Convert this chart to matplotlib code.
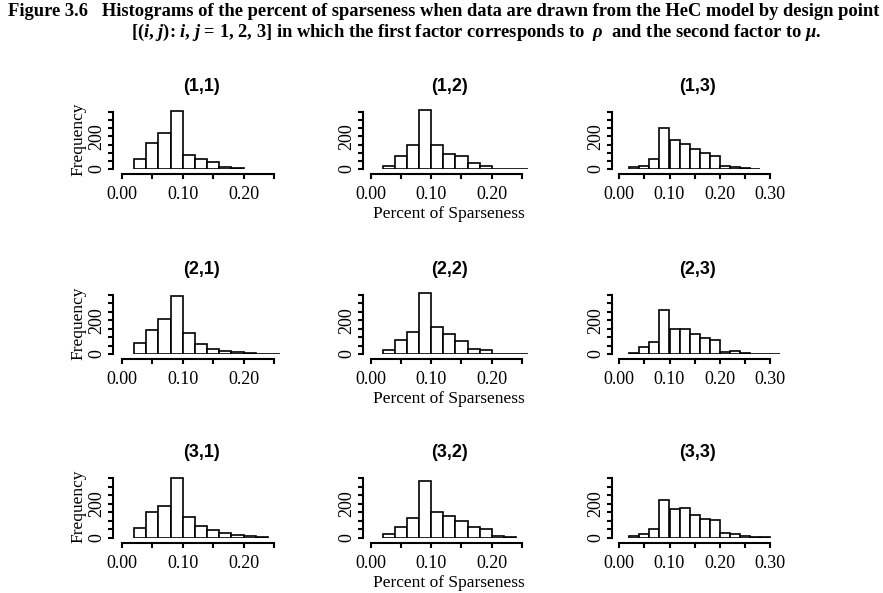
import numpy as np
import matplotlib
matplotlib.use("Agg")
import matplotlib.pyplot as plt

plt.rcParams['mathtext.fontset'] = 'custom'
plt.rcParams['mathtext.rm'] = 'Liberation Serif:bold'
plt.rcParams['mathtext.it'] = 'Liberation Serif:italic:bold'
plt.rcParams['mathtext.bf'] = 'Liberation Serif:bold'

# histogram counts, bins of width 0.02 starting at 0.02
h11 = [63, 162, 219, 356, 83, 61, 40, 12, 8]
h12 = [16, 78, 145, 364, 147, 95, 78, 34, 18, 2, 1, 1]
h13 = [12, 20, 63, 254, 179, 154, 122, 96, 79, 20, 10, 4, 3]
h21 = [65, 140, 207, 344, 126, 59, 32, 20, 14, 6, 2, 2]
h22 = [22, 83, 132, 360, 158, 117, 75, 32, 26, 2, 1, 1]
h23 = [8, 40, 71, 259, 150, 150, 121, 93, 83, 12, 16, 6, 2, 2, 1]
h31 = [58, 150, 185, 350, 121, 68, 47, 29, 16, 10, 6]
h32 = [21, 62, 118, 332, 150, 130, 101, 62, 54, 10, 6]
h33 = [12, 25, 50, 222, 167, 175, 132, 109, 105, 31, 21, 10, 6, 6]

counts = [[h11, h12, h13], [h21, h22, h23], [h31, h32, h33]]
titles = [["(1,1)", "(1,2)", "(1,3)"],
          ["(2,1)", "(2,2)", "(2,3)"],
          ["(3,1)", "(3,2)", "(3,3)"]]
xmax = [0.25, 0.25, 0.30]
x_labels = ["0.00", "0.10", "0.20", "0.30"]
y_ticks = [0, 50, 100, 150, 200, 250, 300, 350]

W, H = 883, 593
fig = plt.figure(figsize=(W / 100, H / 100), dpi=100)

# pixel layout: (x of 0, pixels per unit, x of y axis)
cols = [(122, 608, 113), (370.7, 605, 363), (619.3, 502, 612)]
# (pixel y of 0, pixel y of 350)
rows = [(169, 112), (354, 295), (538, 478)]
ylim_top = 370

serif = 'Liberation Serif'
for r in range(3):
    y0, y350 = rows[r]
    ppu_y = (y0 - y350) / 350
    for c in range(3):
        x0, ppu, yax = cols[c]
        xl = -0.02
        xr = xmax[c] + 0.03
        left = x0 + xl * ppu
        width = (xr - xl) * ppu
        height = ylim_top * ppu_y
        ax = fig.add_axes([left / W, 1 - y0 / H, width / W, height / H])
        ax.set_xlim(xl, xr)
        ax.set_ylim(0, ylim_top)
        ax.patch.set_visible(False)

        vals = counts[r][c]
        edges = 0.02 + 0.02 * np.arange(len(vals) + 1)
        ax.hist(edges[:-1], bins=edges, weights=vals, facecolor='white',
                edgecolor='black', linewidth=1.2)

        for s in ['top', 'right']:
            ax.spines[s].set_visible(False)
        ax.spines['left'].set_position(('data', (yax - x0) / ppu))
        ax.spines['left'].set_bounds(0, 350)
        ax.spines['bottom'].set_position(('outward', 3.6))
        ax.spines['bottom'].set_bounds(0, xmax[c])
        for s in ['left', 'bottom']:
            ax.spines[s].set_linewidth(1.5)

        xt = np.arange(0, xmax[c] + 0.001, 0.05)
        ax.set_xticks(xt)
        ax.set_xticklabels([x_labels[i // 2] if i % 2 == 0 else ""
                            for i in range(len(xt))],
                           fontfamily=serif, fontsize=13)
        ax.set_yticks(y_ticks)
        ax.set_yticklabels(["0", "", "", "", "200", "", "", ""],
                           fontfamily=serif, fontsize=13, rotation=90,
                           va='center')
        ax.tick_params(direction='out', length=3.6, width=1.5, pad=2)
        ax.tick_params(axis='x', pad=5)

        ax.set_title(titles[r][c], fontfamily='Liberation Sans',
                     fontweight='bold', fontsize=13, pad=13)
        if c == 0:
            ax.set_ylabel("Frequency", fontfamily=serif, fontsize=12.5,
                          labelpad=1)
        if c == 1:
            ax.set_xlabel("Percent of Sparseness", fontfamily=serif,
                          fontsize=12.5, labelpad=2)

fig.text(8 / W, 1 - 16 / H,
         "Figure 3.6   Histograms of the percent of sparseness when data are "
         "drawn from the HeC model by design point",
         fontfamily=serif, fontweight='bold', fontsize=13.3, va='baseline')
fig.text(131 / W, 1 - 37 / H,
         r"[($\mathit{i}$, $\mathit{j}$): $\mathit{i}$, $\mathit{j}$ = 1, 2, 3] "
         r"in which the first factor corresponds to  $\mathit{\rho}$  "
         r"and the second factor to $\mathit{\mu}$.",
         fontfamily=serif, fontweight='bold', fontsize=13.3, va='baseline')

fig.savefig("out.png", dpi=100)
